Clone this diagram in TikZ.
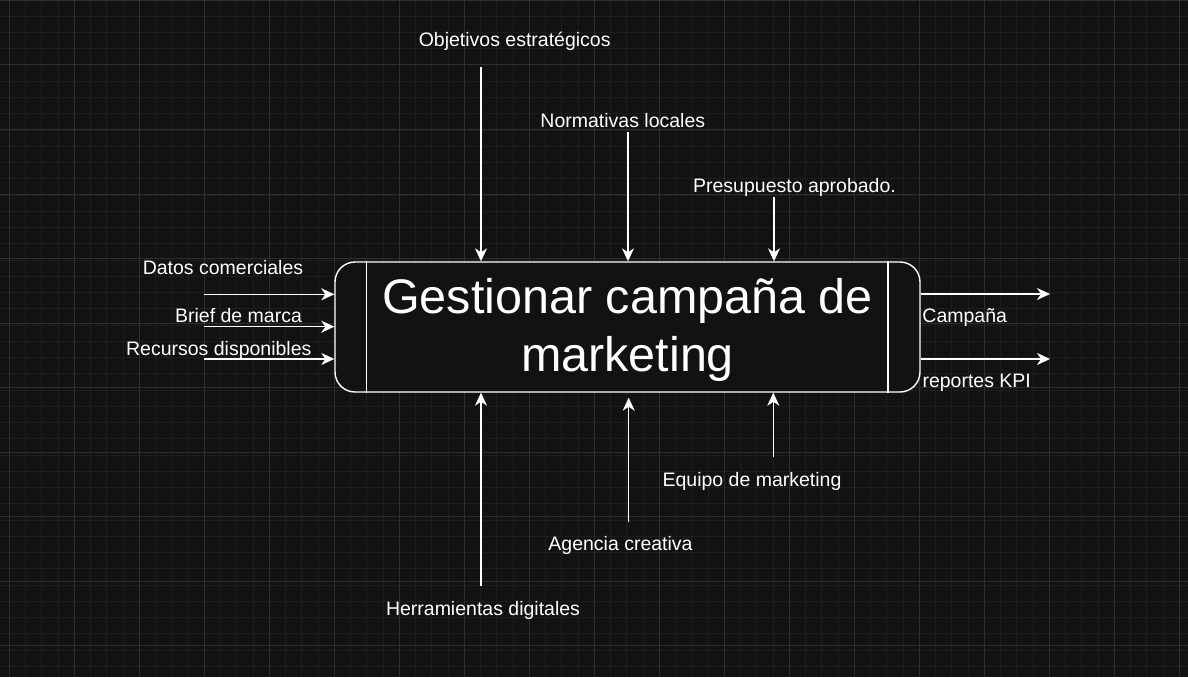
\documentclass[tikz,border=0pt]{standalone}
\usepackage{fontspec}
\setmainfont{Liberation Sans}
\usetikzlibrary{arrows.meta}
\definecolor{bg}{HTML}{121212}
\definecolor{gminor}{HTML}{1D1D1D}
\definecolor{gmajor}{HTML}{2E2E2E}
\begin{document}
\begin{tikzpicture}[x=1pt,y=-1pt,
  lbl/.style={font=\fontsize{19.5}{23}\selectfont, text=white, inner sep=0pt, anchor=base},
  flow/.style={draw=white, line width=1.4pt, -{Stealth[length=13pt,width=12pt,inset=4pt]}}]
\fill[bg] (0,0) rectangle (1188,677);
\useasboundingbox (0,0) rectangle (1188,677);
% grid
\foreach \x in {-6.95,9.3,...,1190} {\draw[gminor, line width=1pt] (\x,0) -- (\x,677);}
\foreach \y in {16.25,32.5,...,680} {\draw[gminor, line width=1pt] (0,\y) -- (1188,\y);}
\foreach \x in {9.3,74.3,...,1190} {\draw[gmajor, line width=1pt] (\x,0) -- (\x,677);}
\foreach \y in {0.5,65,...,680} {\draw[gmajor, line width=1pt] (0,\y) -- (1188,\y);}
% box
\node[draw=white, line width=1.4pt, fill=bg, rounded corners=20pt, minimum width=585pt, minimum height=130pt, inner sep=0pt] (box) at (627.5,327) {};
\draw[white, line width=1.4pt] ([xshift=32pt]box.north west) -- ([xshift=32pt]box.south west);
\draw[white, line width=1.4pt] ([xshift=-32.7pt]box.north east) -- ([xshift=-32.7pt]box.south east);
\node[font=\fontsize{48.5}{57.3}\selectfont, text=white, align=center, inner sep=0pt] (title) at (627.5,330) {Gestionar campaña de\\marketing};
% inputs
\coordinate (i1) at (204,294.3);
\coordinate (i2) at (204,326.7);
\coordinate (i3) at (204,359);
\draw[flow] (i1) -- (i1 -| box.west);
\draw[flow] (i2) -- (i2 -| box.west);
\draw[flow] (i3) -- (i3 -| box.west);
\node[lbl] (li1) at (223,274.3) {Datos comerciales};
\node[lbl] (li2) at (238.5,322.7) {Brief de marca};
\node[lbl] (li3) at (218.8,355) {Recursos disponibles};
% controls
\coordinate (c1) at (481,66.7);
\coordinate (c2) at (628,131.7);
\coordinate (c3) at (774,196.7);
\draw[flow] (c1) -- (c1 |- box.north);
\draw[flow] (c2) -- (c2 |- box.north);
\draw[flow] (c3) -- (c3 |- box.north);
\node[lbl] (lc1) at (514.7,46.7) {Objetivos estratégicos};
\node[lbl] (lc2) at (622.8,127.3) {Normativas locales};
\node[lbl] (lc3) at (794.5,192.7) {Presupuesto aprobado.};
% mechanisms
\coordinate (m1) at (481,586);
\coordinate (m2) at (628.7,521.7);
\coordinate (m3) at (773.3,456.7);
\draw[flow] (m1) -- (m1 |- box.south);
\draw[flow] (m2) -- ([yshift=-5pt]m2 |- box.south);
\draw[flow] (m3) -- (m3 |- box.south);
\node[lbl] (lm1) at (483,615.7) {Herramientas digitales};
\node[lbl] (lm2) at (620.5,550) {Agencia creativa};
\node[lbl] (lm3) at (752,486) {Equipo de marketing};
% outputs
\coordinate (o1) at (1050,294);
\coordinate (o2) at (1050,359);
\draw[flow] (o1 -| box.east) -- (o1);
\draw[flow] (o2 -| box.east) -- (o2);
\node[lbl] (lo1) at (964.7,322.3) {Campaña};
\node[lbl] (lo2) at (976.7,387.3) {reportes KPI};
\end{tikzpicture}
\end{document}
